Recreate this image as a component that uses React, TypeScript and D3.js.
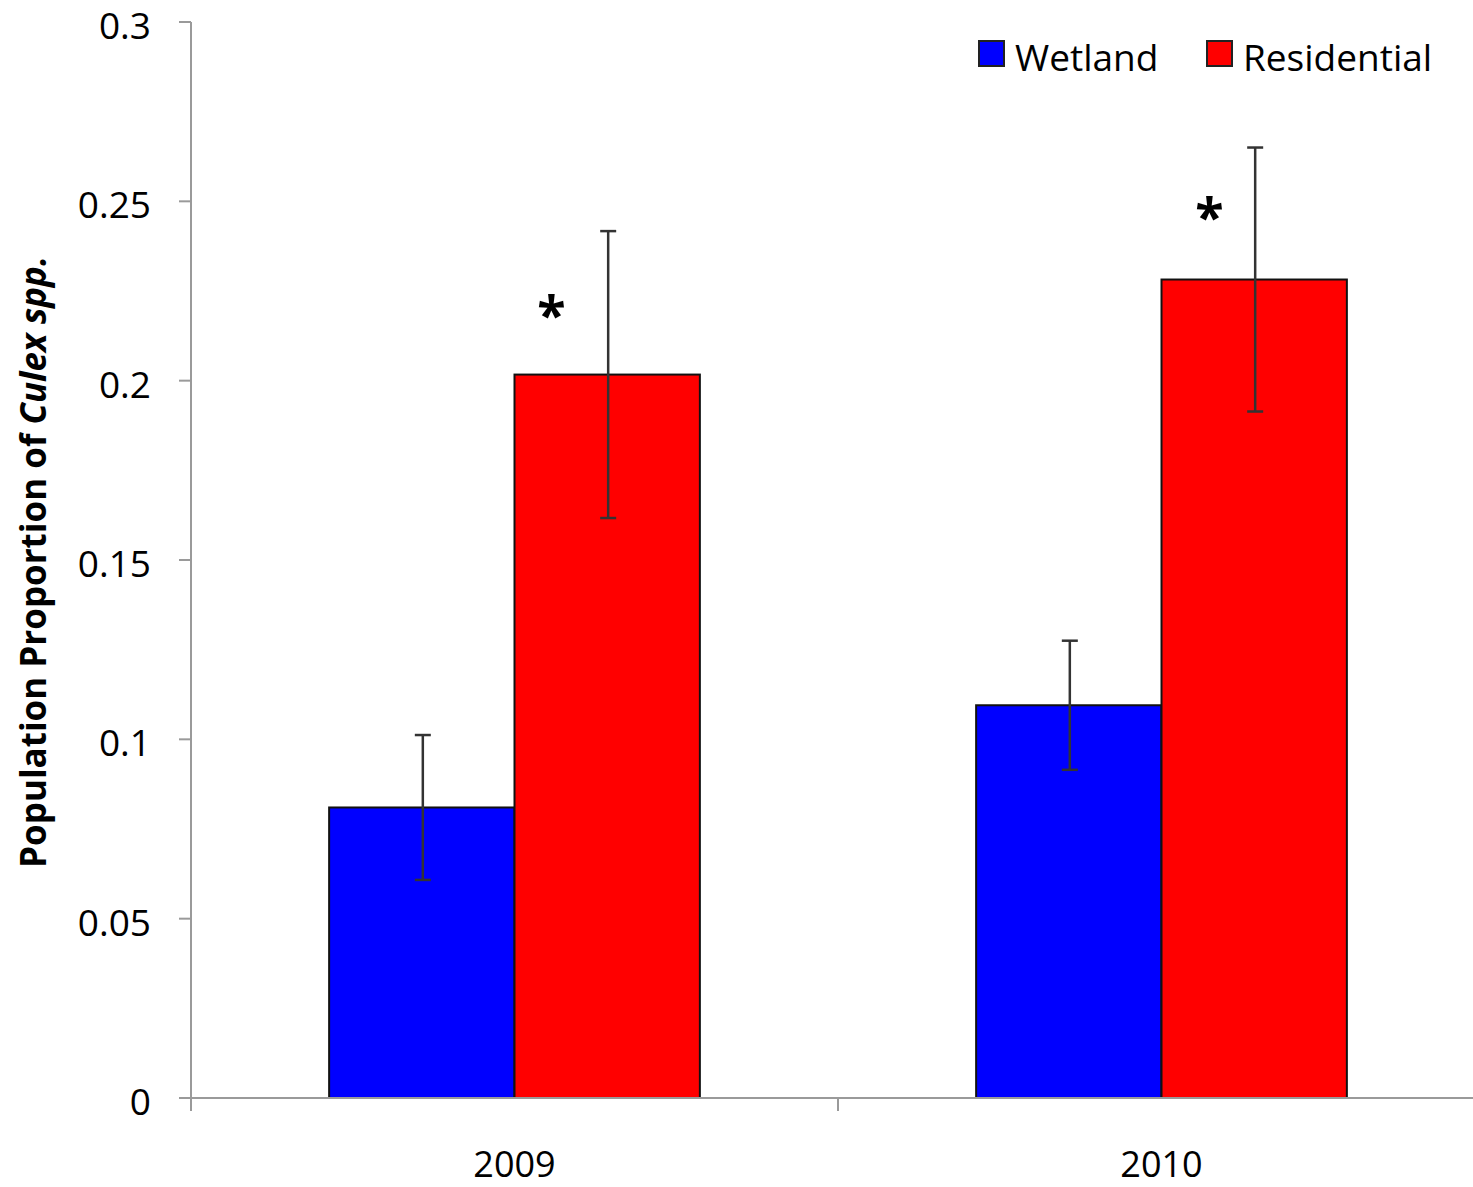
import React from "react";
import * as d3 from "d3";

const years = ["2009", "2010"];
const seriesNames = ["Wetland", "Residential"];
const seriesColors = ["#0000ff", "#ff0000"];
const wetlandValues = [0.081, 0.1095];
const wetlandErrors = [0.0202, 0.018];
const residentialValues = [0.2017, 0.2282];
const residentialErrors = [0.04, 0.0368];
const yTicks = [0, 0.05, 0.1, 0.15, 0.2, 0.25, 0.3];
const yTickLabels = ["0", "0.05", "0.1", "0.15", "0.2", "0.25", "0.3"];
const significanceY = [0.2205, 0.2478];

const W = 1473;
const H = 1187;
const FONT = "'Open Sans', 'DejaVu Sans', sans-serif";

export default function App() {
  const y = d3.scaleLinear().domain([0, 0.3]).range([1098, 22]);
  const x0 = d3.scaleBand<string>().domain(years).range([191, 1485]).padding(0);
  const bw = x0.bandwidth();
  const gap = bw * 0.2135;
  const x1 = d3.scaleBand<string>().domain(seriesNames).range([gap, bw - gap]).padding(0);

  const values = [wetlandValues, residentialValues];
  const errors = [wetlandErrors, residentialErrors];

  const axisColor = "#9a9a9a";

  return (
    <svg width={W} height={H} style={{ position: "absolute", left: 0, top: 0, background: "#fff" }}>
      {/* bars */}
      {years.map((yr, i) =>
        seriesNames.map((s, j) => {
          const v = values[j][i];
          const bx = (x0(yr) ?? 0) + (x1(s) ?? 0);
          return (
            <rect
              key={yr + s}
              x={bx}
              y={y(v)}
              width={x1.bandwidth()}
              height={y(0) - y(v)}
              fill={seriesColors[j]}
              stroke="#111"
              strokeWidth={2}
            />
          );
        })
      )}
      {/* error bars */}
      {years.map((yr, i) =>
        seriesNames.map((s, j) => {
          const v = values[j][i];
          const e = errors[j][i];
          const cx = (x0(yr) ?? 0) + (x1(s) ?? 0) + x1.bandwidth() / 2 + 1;
          return (
            <g key={"e" + yr + s} stroke="#333" strokeWidth={2.5}>
              <line x1={cx} x2={cx} y1={y(v + e)} y2={y(v - e)} />
              <line x1={cx - 8} x2={cx + 8} y1={y(v + e)} y2={y(v + e)} />
              <line x1={cx - 8} x2={cx + 8} y1={y(v - e)} y2={y(v - e)} />
            </g>
          );
        })
      )}
      {/* significance asterisks */}
      {years.map((yr, i) => {
        const bx = (x0(yr) ?? 0) + (x1("Residential") ?? 0);
        const ax = bx + (i === 0 ? 37 : 48);
        return (
          <text
            key={"s" + yr}
            x={ax}
            y={y(significanceY[i]) + 27}
            textAnchor="middle"
            fontFamily={FONT}
            fontSize={52}
            fontWeight="bold"
            fill="#000"
          >
            *
          </text>
        );
      })}
      {/* y axis */}
      <line x1={191} x2={191} y1={y(0.3)} y2={y(0)} stroke={axisColor} strokeWidth={2} />
      {yTicks.map((t, k) => (
        <g key={"yt" + k}>
          <line x1={179} x2={191} y1={y(t)} y2={y(t)} stroke={axisColor} strokeWidth={2} />
          <text
            x={151}
            y={y(t) + 17}
            textAnchor="end"
            fontFamily={FONT}
            fontSize={37}
            fill="#000"
          >
            {yTickLabels[k]}
          </text>
        </g>
      ))}
      {/* x axis */}
      <line x1={191} x2={W} y1={y(0)} y2={y(0)} stroke={axisColor} strokeWidth={2} />
      {[...years.map((yr) => x0(yr) ?? 0), (x0(years[1]) ?? 0) + bw].map((tx, k) => (
        <line key={"xt" + k} x1={tx} x2={tx} y1={y(0)} y2={y(0) + 13} stroke={axisColor} strokeWidth={2} />
      ))}
      {years.map((yr) => (
        <text
          key={"xl" + yr}
          x={(x0(yr) ?? 0) + bw / 2}
          y={1177}
          textAnchor="middle"
          fontFamily={FONT}
          fontSize={36}
          fill="#000"
        >
          {yr}
        </text>
      ))}
      {/* y label */}
      <text
        transform={`translate(46, ${(y(0) + y(0.3)) / 2 + 2}) rotate(-90)`}
        textAnchor="middle"
        fontFamily={FONT}
        fontSize={35}
        fontWeight="bold"
        fill="#000"
      >
        Population Proportion of <tspan fontStyle="italic">Culex spp.</tspan>
      </text>
      {/* legend */}
      {seriesNames.map((s, j) => {
        const lx = j === 0 ? 979 : 1207;
        return (
          <g key={"lg" + s}>
            <rect x={lx} y={41} width={25} height={25} fill={seriesColors[j]} stroke="#222" strokeWidth={2} />
            <text x={lx + 36} y={71} fontFamily={FONT} fontSize={37} fill="#000">
              {s}
            </text>
          </g>
        );
      })}
    </svg>
  );
}
